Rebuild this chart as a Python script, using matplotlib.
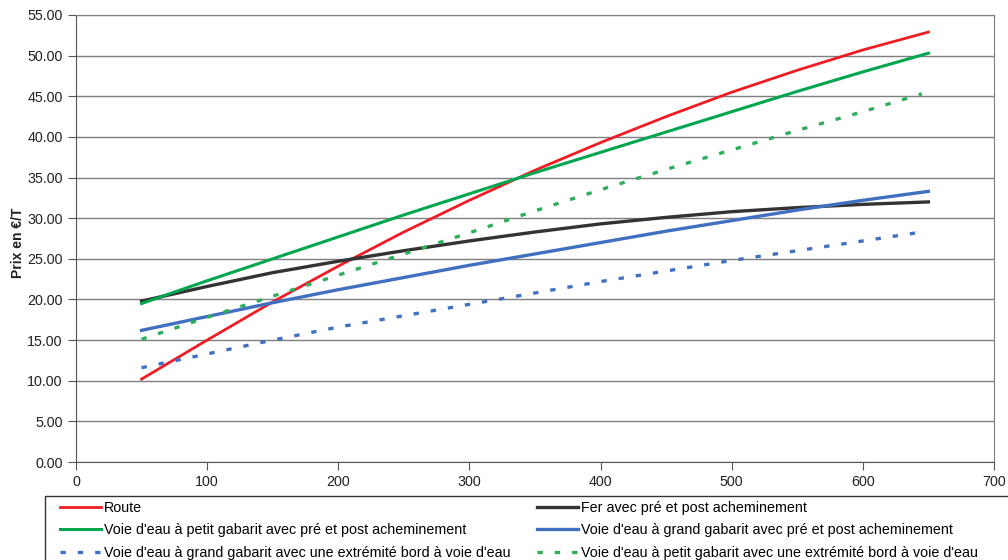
import numpy as np
import matplotlib.pyplot as plt
from matplotlib.patches import Rectangle

plt.rcParams['font.family'] = ['Liberation Sans', 'DejaVu Sans']

# distances (km) et prix (EUR/T)
DIST = [50, 100, 150, 200, 250, 300, 350, 400, 450, 500, 550, 600, 650]
DIST_POINTILLE = [50, 100, 150, 200, 250, 300, 350, 400, 450, 500, 550, 600, 645]

ROUTE = [10.2, 15.0, 19.7, 24.1, 28.3, 32.2, 35.9, 39.3, 42.5, 45.5, 48.2, 50.7, 52.9]
FER = [19.8, 21.6, 23.3, 24.7, 26.0, 27.2, 28.3, 29.3, 30.1, 30.8, 31.3, 31.7, 32.0]
PETIT_PRE_POST = [19.5, 22.3, 25.0, 27.7, 30.4, 33.0, 35.6, 38.1, 40.6, 43.1, 45.6, 48.0, 50.3]
GRAND_PRE_POST = [16.2, 17.9, 19.6, 21.2, 22.7, 24.2, 25.6, 27.0, 28.4, 29.7, 31.0, 32.2, 33.3]
GRAND_BORD = [11.6, 13.3, 15.0, 16.6, 18.0, 19.4, 20.8, 22.2, 23.5, 24.8, 26.0, 27.2, 28.3]
PETIT_BORD = [15.1, 17.8, 20.4, 23.0, 25.6, 28.2, 30.9, 33.5, 36.0, 38.4, 40.8, 43.1, 45.3]

LABELS = ["Route",
          "Fer avec pré et post acheminement",
          "Voie d'eau à petit gabarit avec pré et post acheminement",
          "Voie d'eau à grand gabarit avec pré et post acheminement",
          "Voie d'eau à grand gabarit avec une extrémité bord à voie d'eau",
          "Voie d'eau à petit gabarit avec une extrémité bord à voie d'eau"]

fig = plt.figure(figsize=(10.08, 5.6), dpi=100)
ax = fig.add_axes([76/1008, 1-462/560, (994-76)/1008, (462-15)/560])

dots = (0, (1.6, 3.6))
l1, = ax.plot(DIST, ROUTE, color='#ee1c25', lw=2.0)
l2, = ax.plot(DIST, FER, color='#333333', lw=2.4)
l3, = ax.plot(DIST, PETIT_PRE_POST, color='#00a54f', lw=2.2)
l4, = ax.plot(DIST, GRAND_PRE_POST, color='#4270c0', lw=2.4)
l5, = ax.plot(DIST_POINTILLE, GRAND_BORD, color='#4270c0', lw=2.4, ls=dots)
l6, = ax.plot(DIST_POINTILLE, PETIT_BORD, color='#2eae5c', lw=2.4, ls=dots)

ax.set_xlim(0, 700)
ax.set_ylim(0, 55)
ax.set_xticks(np.arange(0, 701, 100))
ax.set_yticks(np.arange(0, 55.1, 5))
ax.set_yticklabels(['%.2f' % v for v in np.arange(0, 55.1, 5)])
ax.yaxis.grid(True, color='#7f7f7f', lw=1.0)
ax.set_axisbelow(True)
for s in ax.spines.values():
    s.set_color('#7f7f7f')
ax.spines['left'].set_color('#555555')
ax.spines['bottom'].set_color('#555555')
ax.tick_params(axis='both', direction='out', length=6, color='#555555',
               labelsize=10.3, labelcolor='#222222')
ax.tick_params(axis='x', pad=3)
fig.text(18/1008, 1-243/560, 'Prix en €/T', rotation=90, ha='center', va='center',
         fontsize=10, fontweight='bold', color='#222222')

fig.patches.append(Rectangle((45/1008, -0.05), 1.0, 1-496/560+0.05,
                             transform=fig.transFigure, fill=False,
                             edgecolor='#333333', lw=1.0, clip_on=False))
kw = dict(frameon=False, loc='upper left', fontsize=10.3, handlelength=2.9,
          handletextpad=0.2, labelspacing=0.58, borderpad=0, borderaxespad=0)
leg1 = fig.legend([l1, l3, l5], [LABELS[0], LABELS[2], LABELS[4]],
                  bbox_to_anchor=(60/1008, 1-501/560), **kw)
leg2 = fig.legend([l2, l4, l6], [LABELS[1], LABELS[3], LABELS[5]],
                  bbox_to_anchor=(537/1008, 1-501/560), **kw)

fig.savefig('out.png', dpi=100)
